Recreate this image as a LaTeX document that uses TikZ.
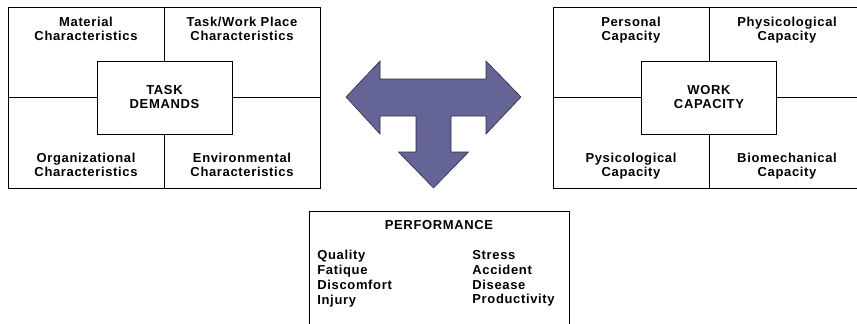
\documentclass[tikz,border=0pt]{standalone}
\usepackage{fontspec}
\setmainfont{Liberation Sans}[LetterSpace=5]
\usetikzlibrary{positioning}
\definecolor{arrowcolor}{RGB}{100,100,150}
\definecolor{rimcolor}{RGB}{45,45,70}

\begin{document}
\begin{tikzpicture}[%
    x=1pt, y=-1pt,              % measure in points, y grows downwards
    line width=0.8pt,           % thin black frames
    ]
\tikzset{
  base/.style={draw, rectangle, inner sep=0pt, align=center,
    font=\fontsize{13}{14}\selectfont\bfseries},
  outer/.style={base, minimum width=312pt, minimum height=181pt},
  core/.style={base, fill=white, minimum width=135pt, minimum height=73pt},
  cell/.style={inner sep=0pt, align=center, font=\fontsize{13}{14}\selectfont\bfseries},
  upper/.style={cell, anchor=north},
  lower/.style={cell, anchor=south, text depth=0pt},
  list/.style={inner sep=0pt, align=left, anchor=north west,
    font=\fontsize{13}{14.8}\selectfont\bfseries},
  tarrow/.style={fill=arrowcolor, draw=rimcolor, line width=0.6pt, line join=miter},
}

\useasboundingbox (0,0) rectangle (857,324);
\clip (0,0) rectangle (857,324);

% task side
\node [outer] (task) at (164,97.5) {};
\node [core]  (tdem) at (164.5,97.5) {TASK\\DEMANDS};
\node [upper] (mat)  at (86,17)    {Material\\Characteristics};
\node [upper] (twp)  at (242,17)   {Task/Work Place\\Characteristics};
\node [lower] (org)  at (86,176.5) {Organizational\\Characteristics};
\node [lower] (env)  at (242,176.5) {Environmental\\Characteristics};

% work side
\node [outer] (work) at (709,97.5) {};
\node [core]  (wcap) at (709,97.5) {WORK\\CAPACITY};
\node [upper] (pers) at (631,17)    {Personal\\Capacity};
\node [upper] (phys) at (787,17)    {Physicological\\Capacity};
\node [lower] (psy)  at (631,176.5) {Pysicological\\Capacity};
\node [lower] (bio)  at (787,176.5) {Biomechanical\\Capacity};

% performance
\node [base, minimum width=260pt, minimum height=130pt] (perf) at (439,276) {};
\node [cell, anchor=north] (ptit) at (439,220) {PERFORMANCE};
\node [list] (pleft)  at (317,250) {Quality\\Fatique\\Discomfort\\Injury};
\node [list] (pright) at (472,250) {Stress\\Accident\\Disease\\Productivity};

%connect
\draw (tdem.north) -- (tdem.north |- task.north);
\draw (tdem.south) -- (tdem.south |- task.south);
\draw (tdem.west) -- (tdem.west -| task.west);
\draw (tdem.east) -- (tdem.east -| task.east);
\draw (wcap.north) -- (wcap.north |- work.north);
\draw (wcap.south) -- (wcap.south |- work.south);
\draw (wcap.west) -- (wcap.west -| work.west);
\draw (wcap.east) -- (wcap.east -| work.east);

% T-shaped arrow between the two sides
\draw [tarrow] (346,97) -- (380,61) -- (380,79) -- (486,79) -- (486,61)
  -- (521,97) -- (486,134) -- (486,116) -- (451,116) -- (451,152)
  -- (468.5,152) -- (433.5,188) -- (398.5,152) -- (416,152) -- (416,116)
  -- (380,116) -- (380,134) -- cycle;

\end{tikzpicture}
\end{document}
